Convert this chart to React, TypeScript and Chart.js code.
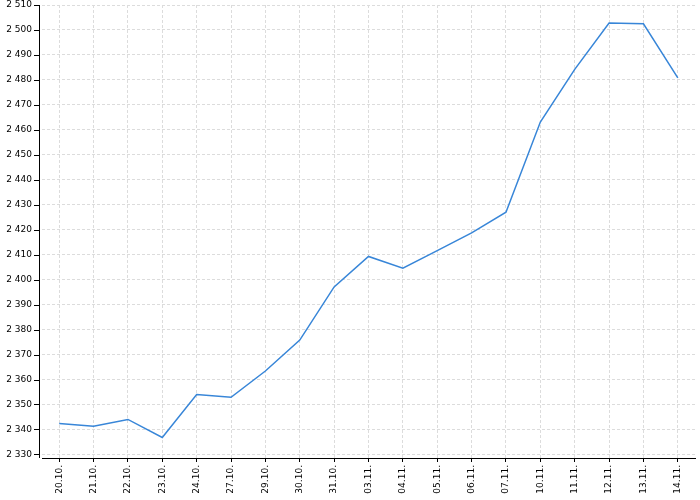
import React, { useEffect, useRef } from "react";
import { Chart, registerables } from "chart.js";

Chart.register(...registerables);

const categories = [
  "20.10.", "21.10.", "22.10.", "23.10.", "24.10.", "27.10.", "29.10.", "30.10.", "31.10.",
  "03.11.", "04.11.", "05.11.", "06.11.", "07.11.", "10.11.", "11.11.", "12.11.", "13.11.", "14.11.",
];

const values = [
  2342.4, 2341.3, 2344.0, 2336.8, 2354.0, 2352.9, 2363.4, 2375.8, 2397.1,
  2409.3, 2404.6, 2411.6, 2418.7, 2427.0, 2463.1, 2484.2, 2502.8, 2502.5, 2480.8,
];

const yTickValues = [
  2330, 2340, 2350, 2360, 2370, 2380, 2390, 2400, 2410, 2420,
  2430, 2440, 2450, 2460, 2470, 2480, 2490, 2500, 2510,
];

const fmt = (v: number) => String(v).replace(/\B(?=(\d{3})+(?!\d))/g, " ");

const yAxisPlugin = {
  id: "yAxisOffset",
  afterDraw(chart: any) {
    const { ctx, chartArea } = chart;
    const ys = chart.scales.y;
    const x0 = chartArea.left - 3;
    ctx.save();
    ctx.strokeStyle = "#000";
    ctx.lineWidth = 1;
    ctx.setLineDash([]);
    ctx.beginPath();
    ctx.moveTo(x0 + 0.5, chartArea.top);
    ctx.lineTo(x0 + 0.5, chartArea.bottom);
    for (const t of ys.ticks) {
      const py = Math.round(ys.getPixelForValue(t.value)) + 0.5;
      ctx.moveTo(x0 - 5, py);
      ctx.lineTo(x0 + 0.5, py);
    }
    ctx.stroke();
    ctx.restore();
  },
};

export default function App() {
  const ref = useRef<HTMLCanvasElement>(null);
  useEffect(() => {
    document.body.style.margin = "0";
    Chart.defaults.font.family = "'DejaVu Sans', sans-serif";
    Chart.defaults.font.size = 9;
    Chart.defaults.color = "#000";
    const chart = new Chart(ref.current as HTMLCanvasElement, {
      type: "line",
      data: {
        labels: categories,
        datasets: [
          {
            data: values,
            borderColor: "rgb(56,134,216)",
            borderWidth: 1.5,
            pointRadius: 0,
            tension: 0,
            fill: false,
          },
        ],
      },
      options: {
        animation: false,
        responsive: false,
        layout: { padding: { top: 5, right: 5, left: 0, bottom: 0 } },
        plugins: { legend: { display: false }, tooltip: { enabled: false } },
        scales: {
          x: {
            type: "category",
            offset: true,
            grid: {
              offset: false,
              color: "#dcdcdc",
              lineWidth: 1,
              tickColor: "#000",
              tickLength: 4,
              tickBorderDash: [],
            },
            border: { display: true, color: "#000", width: 1, dash: [3, 2] },
            ticks: { minRotation: 90, maxRotation: 90, padding: 3, autoSkip: false },
            afterFit: (s: any) => {
              s.height = 42;
              s.paddingLeft = 0;
              s.paddingRight = 0;
            },
          },
          y: {
            min: 2328.56,
            max: 2510,
            grid: { color: "#dcdcdc", lineWidth: 1, drawTicks: false },
            border: { display: false, dash: [3, 2] },
            ticks: { padding: 10, callback: (v: any) => fmt(Number(v)) },
            afterBuildTicks: (s: any) => {
              s.ticks = yTickValues.map((v) => ({ value: v }));
            },
            afterFit: (s: any) => {
              s.width = 42;
              s.paddingTop = 0;
              s.paddingBottom = 0;
            },
          },
        },
      },
      plugins: [yAxisPlugin],
    } as any);
    return () => chart.destroy();
  }, []);
  return (
    <div style={{ width: 700, height: 500 }}>
      <canvas ref={ref} width={700} height={500} />
    </div>
  );
}
